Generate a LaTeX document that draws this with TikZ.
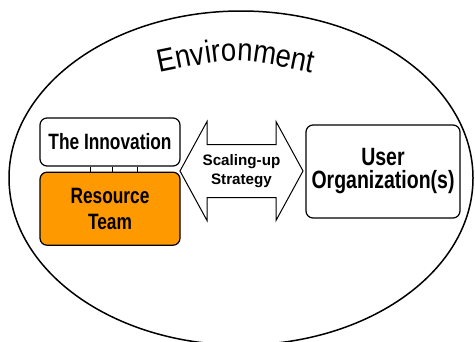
\documentclass[tikz,border=0pt]{standalone}
\usepackage{fontspec}
\setmainfont{Liberation Sans}
\newfontfamily\narrowfont[FakeStretch=0.78]{Liberation Sans}
\newfontfamily\envfamily[FakeStretch=0.86]{Liberation Sans}
\usetikzlibrary{positioning,calc,decorations.text}

\definecolor{teamorange}{HTML}{FF9900}
\newcommand{\envfont}{\envfamily\fontsize{32bp}{34bp}\selectfont}
\newcommand{\boxfont}{\narrowfont\fontsize{22.2bp}{26bp}\selectfont\bfseries}
\newcommand{\userfont}{\narrowfont\fontsize{25bp}{23bp}\selectfont\bfseries}
\newcommand{\stratfont}{\fontsize{15.2bp}{19bp}\selectfont\bfseries}

\tikzset{
  box/.style={draw, rounded corners=7bp, line width=1.2bp, align=center, inner sep=0pt},
  arrowshape/.style={draw, line width=1bp, fill=white, line join=miter}
}

\begin{document}
\begin{tikzpicture}[x=1bp,y=-1bp]
        \useasboundingbox (0,0) rectangle (475,341);

        % The environment
        \draw[line width=1.5bp] (241,178) ellipse [x radius=232, y radius=167];
        \path[decorate, decoration={text along path, text align=center,
            text={|\envfont|Environment}}]
            (158,73) .. controls (236,57) .. (314,73);

        % The left boxes
        \node[box, minimum width=140bp, minimum height=48bp, font=\boxfont]
            (innov) at (110,142) {The Innovation};
        \node[box, fill=teamorange, minimum width=140bp, minimum height=73bp,
            font=\boxfont, below=5bp of innov] (team) {Resource\\Team};

        % Links between them
        \foreach \f in {0.364,0.521,0.693}
            \draw[line width=1bp] ($(innov.south west)!\f!(innov.south east)$)
                -- ($(team.north west)!\f!(team.north east)$);

        % The right box
        \node[box, minimum width=154bp, minimum height=93bp, font=\userfont]
            (user) at (383,171.5) {User\\Organization(s)};

        % The double arrow
        \coordinate (mid) at (241.5,171);
        \draw[arrowshape] (mid) ++(-61.5,0) -- ++(27,-49.5) -- ++(0,23)
            -- ++(69,0) -- ++(0,-23) -- ++(27,49.5) -- ++(-27,49.5)
            -- ++(0,-23) -- ++(-69,0) -- ++(0,23) -- cycle;
        \node[font=\stratfont, align=center] (strategy) at (mid) {Scaling-up\\Strategy};

\end{tikzpicture}
\end{document}
